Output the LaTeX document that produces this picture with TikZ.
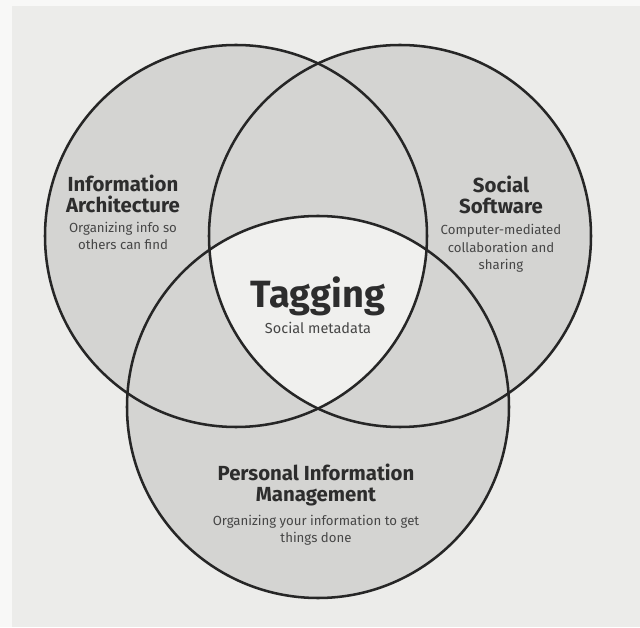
\documentclass[tikz,border=0pt]{standalone}
\usepackage{fontspec}
\setmainfont{Fira Sans}
\usetikzlibrary{positioning}

\definecolor{paper}{RGB}{236,236,234}
\definecolor{margin}{RGB}{248,248,247}
\definecolor{setgray}{RGB}{212,212,210}
\definecolor{coregray}{RGB}{240,240,238}
\definecolor{rimgray}{RGB}{38,38,38}
\definecolor{titlegray}{RGB}{45,45,45}
\definecolor{notegray}{RGB}{70,70,70}

\begin{document}
\begin{tikzpicture}[
            x = 0.025cm, y = 0.025cm, % one unit = one pixel of the scan
            rim/.style = {draw = rimgray, line width = 1.8pt},
            title/.style = {font = \fontsize{14.5}{15.3}\selectfont\bfseries,
                            text = titlegray, align = center, inner sep = 0pt},
            note/.style = {font = \fontsize{9.4}{12.3}\selectfont,
                           text = notegray, align = center, inner sep = 0pt}
        ]

        % page
        \fill[paper] (0,0) rectangle (640,627);
        \fill[margin] (0,0) rectangle (12,627);
        \fill[margin] (0,621) rectangle (640,627);

        % centres of the three sets
        \coordinate (ia)  at (236,391);
        \coordinate (ss)  at (400,391);
        \coordinate (pim) at (318,220);

        \fill[setgray] (ia) circle (191) (ss) circle (191) (pim) circle (191);

        % common part of all three
        \begin{scope}
            \clip (ia) circle (191);
            \clip (ss) circle (191);
            \fill[coregray] (pim) circle (191);
        \end{scope}

        \draw[rim] (ia) circle (191);
        \draw[rim] (ss) circle (191);
        \draw[rim] (pim) circle (191);

        % labels
        \node[title] (iaTitle) at (123,433) {Information\\Architecture};
        \node[note, below = 6pt of iaTitle] (iaNote) {Organizing info so\\others can find};

        \node[title] (ssTitle) at (501,432) {Social\\Software};
        \node[note, below = 7pt of ssTitle] (ssNote) {Computer-mediated\\collaboration and\\sharing};

        \node[font = \fontsize{27}{30}\selectfont\bfseries, text = titlegray, inner sep = 0pt]
            (tag) at (318,331) {Tagging};
        \node[note, font = \fontsize{10.3}{12}\selectfont, below = 4pt of tag] (tagNote) {Social metadata};

        \node[title] (pimTitle) at (316,142) {Personal Information\\Management};
        \node[note, below = 6pt of pimTitle] (pimNote) {Organizing your information to get\\things done};
    \end{tikzpicture}
\end{document}
